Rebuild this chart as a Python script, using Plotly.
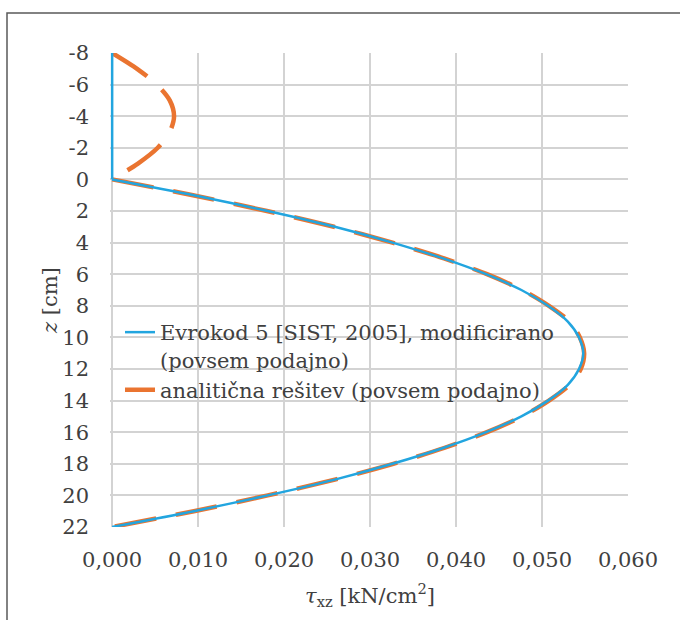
import plotly.graph_objects as go

# ---- data ----
z_ec5_top = [-8, 0]
tau_ec5_top = [0.0, 0.0]
z_ec5 = [0, 1, 2, 3, 4, 5, 6, 7, 8, 9, 10, 11, 12, 13, 14, 15, 16, 17, 18, 19, 20, 21, 22]
tau_ec5 = [0.0, 0.0095, 0.0181, 0.0259, 0.0326, 0.0385, 0.0435, 0.0476, 0.0507, 0.0530,
           0.0543, 0.0548, 0.0543, 0.0530, 0.0507, 0.0476, 0.0435, 0.0385, 0.0326, 0.0259,
           0.0181, 0.0095, 0.0]

z_anal_top = [-8, -7, -6, -5, -4, -3, -2, -1, 0]
tau_anal_top = [0.0, 0.0029, 0.0052, 0.0067, 0.0072, 0.0067, 0.0053, 0.0030, 0.0]
z_anal = [0, 1, 2, 3, 4, 5, 6, 7, 8, 9, 10, 11, 12, 13, 14, 15, 16, 17, 18, 19, 20, 21, 22]
tau_anal = [0.0, 0.0094, 0.0180, 0.0258, 0.0326, 0.0386, 0.0436, 0.0477, 0.0508, 0.0532,
            0.0544, 0.0549, 0.0545, 0.0532, 0.0508, 0.0477, 0.0436, 0.0386, 0.0327,
            0.0259, 0.0181, 0.0095, 0.0]

name_ec5 = "Evrokod 5 [SIST, 2005], modificirano<br>(povsem podajno)"
name_anal = "analitična rešitev (povsem podajno)"

x_tickvals = [0.0, 0.01, 0.02, 0.03, 0.04, 0.05, 0.06]
x_ticktext = ["0,000", "0,010", "0,020", "0,030", "0,040", "0,050", "0,060"]
y_tickvals = [-8, -6, -4, -2, 0, 2, 4, 6, 8, 10, 12, 14, 16, 18, 20, 22]
y_ticktext = ["-8", "-6", "-4", "-2", "0", "2", "4", "6", "8", "10", "12", "14",
              "16", "18", "20", "22"]

BLUE = "#22A5DF"
ORANGE = "#EA7430"
GRID = "#D3D3D3"
TXT = "#404040"
FONT = "DejaVu Serif"
FS = 21

fig = go.Figure()
fig.add_trace(go.Scatter(
    x=tau_anal_top, y=z_anal_top, mode="lines", name=name_anal, legendgroup="a",
    showlegend=False,
    line=dict(color=ORANGE, width=4.5, dash="42px,20px", shape="spline", smoothing=0.8),
))
fig.add_trace(go.Scatter(
    x=tau_anal, y=z_anal, mode="lines", name=name_anal, legendrank=2, legendgroup="a",
    line=dict(color=ORANGE, width=4.5, dash="42px,20px", shape="spline", smoothing=0.8),
))
fig.add_trace(go.Scatter(
    x=tau_ec5_top, y=z_ec5_top, mode="lines", name=name_ec5, legendgroup="b",
    showlegend=False, line=dict(color=BLUE, width=2.5),
))
fig.add_trace(go.Scatter(
    x=tau_ec5, y=z_ec5, mode="lines", name=name_ec5, legendrank=1, legendgroup="b",
    line=dict(color=BLUE, width=2.5, shape="spline", smoothing=0.8),
))

L, T = 110, 53
W, H = 680, 620
PW, PH = 518, 474

fig.update_layout(
    width=W, height=H,
    margin=dict(l=L, r=W - L - PW, t=T, b=H - T - PH, pad=0),
    paper_bgcolor="white", plot_bgcolor="white",
    font=dict(family=FONT, size=FS, color=TXT),
    showlegend=True,
    legend=dict(
        x=(120 - L) / PW, y=(T + PH - 312) / PH, xanchor="left", yanchor="top",
        bgcolor="rgba(0,0,0,0)", borderwidth=0, font=dict(family=FONT, size=FS, color=TXT),
        valign="top", tracegroupgap=0, itemwidth=30,
    ),
    xaxis=dict(
        range=[-0.00025, 0.06], tickvals=x_tickvals, ticktext=x_ticktext,
        showgrid=True, gridcolor=GRID, gridwidth=1.5, zeroline=False, showline=False,
        ticks="", ticklabelstandoff=18, tickfont=dict(family=FONT, size=FS, color=TXT),
    ),
    yaxis=dict(
        range=[22, -8], tickvals=y_tickvals, ticktext=y_ticktext,
        showgrid=True, gridcolor=GRID, gridwidth=1.5, zeroline=False, showline=False,
        ticks="", ticklabelstandoff=20, tickfont=dict(family=FONT, size=FS, color=TXT),
    ),
    annotations=[
        dict(text="<i>z</i> [cm]", xref="paper", yref="paper",
             x=(50 - L) / PW, y=(T + PH - 301) / PH, xanchor="center", yanchor="middle",
             textangle=-90, showarrow=False, font=dict(family=FONT, size=FS, color=TXT)),
        dict(text="<i>τ</i><sub>xz</sub> [kN/cm<sup>2</sup>]", xref="paper", yref="paper",
             x=(370 - L) / PW, y=(T + PH - 595) / PH, xanchor="center", yanchor="middle",
             showarrow=False, font=dict(family=FONT, size=FS, color=TXT)),
    ],
    shapes=[
        dict(type="rect", xref="paper", yref="paper",
             x0=(7 - L) / PW, x1=(W + 20 - L) / PW,
             y0=(T + PH - (H + 20)) / PH, y1=(T + PH - 13) / PH,
             line=dict(color="#5A5A5A", width=1.5), fillcolor="rgba(0,0,0,0)", layer="below"),
    ],
)

fig.write_html("out.html", config={"displayModeBar": False},
               post_script="document.body.style.margin='0';document.body.style.padding='0';")
